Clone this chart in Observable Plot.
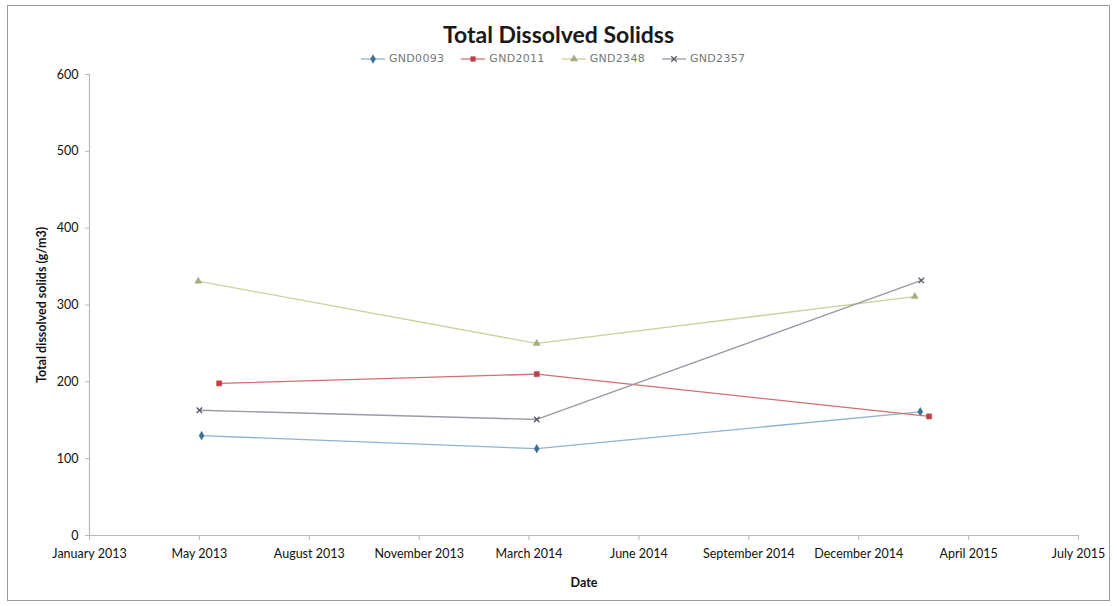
<!DOCTYPE html>
<html>
<head>
<meta charset="utf-8">
<script src="https://cdn.jsdelivr.net/npm/d3@7"></script>
<script src="https://cdn.jsdelivr.net/npm/@observablehq/plot@0.6"></script>
<style>
  html, body { margin: 0; padding: 0; background: #fff; }
  #wrap { position: relative; width: 1117px; height: 606px; overflow: hidden; font-family: Lato, "Open Sans", sans-serif; }
  #border { position: absolute; left: 7px; top: 5px; width: 1103px; height: 596px; border: 1.5px solid #9a9a9a; box-sizing: border-box; pointer-events: none; }
  #title { position: absolute; left: 0; top: 20px; width: 1117px; text-align: center; font-size: 23px; font-weight: bold; color: #1a1a1a; }
  #legend { position: absolute; left: 360px; top: 52px; display: flex; align-items: center; gap: 16px; font-family: "DejaVu Sans", sans-serif; font-size: 11px; color: #777; letter-spacing: 0.3px; }
  #legend .item { display: flex; align-items: center; gap: 3px; }
  #chart { position: absolute; left: 0; top: 0; }
</style>
</head>
<body>
<div id="wrap">
  <div id="chart"></div>
  <div id="title">Total Dissolved Solidss</div>
  <div id="legend"></div>
  <div id="border"></div>
</div>
<script>
// ---- data ----
const seriesNames = ["GND0093", "GND2011", "GND2348", "GND2357"];
const gnd0093Dates = ["2013-05-08", "2014-03-09", "2015-02-21"];
const gnd0093Values = [130, 113, 161];
const gnd2011Dates = ["2013-05-24", "2014-03-09", "2015-03-01"];
const gnd2011Values = [198, 210, 155];
const gnd2348Dates = ["2013-05-05", "2014-03-09", "2015-02-16"];
const gnd2348Values = [331, 250, 311];
const gnd2357Dates = ["2013-05-06", "2014-03-09", "2015-02-22"];
const gnd2357Values = [163, 151, 332];
const xTickDates = ["2013-01-26", "2013-05-06", "2013-08-14", "2013-11-22", "2014-03-02",
                    "2014-06-10", "2014-09-18", "2014-12-27", "2015-04-06", "2015-07-15"];
const yTicks = [0, 100, 200, 300, 400, 500, 600];

// ---- styles ----
const styles = [
  {line: "#8fb3cf", marker: "#3f6f8f", symbol: "diamond", fill: true, r: 2.6},
  {line: "#d07070", marker: "#c0404a", symbol: "square", fill: true, r: 2.9},
  {line: "#cfd19c", marker: "#a9ab80", symbol: "triangle", fill: true, r: 2.6},
  {line: "#9a9aa6", marker: "#555566", symbol: "times", fill: false, r: 2.6}
];

const parse = d3.utcParse("%Y-%m-%d");
const allDates = [gnd0093Dates, gnd2011Dates, gnd2348Dates, gnd2357Dates];
const allValues = [gnd0093Values, gnd2011Values, gnd2348Values, gnd2357Values];
const seriesData = seriesNames.map((name, i) =>
  allDates[i].map((d, j) => ({series: name, date: parse(d), value: allValues[i][j]})));
const xTicks = xTickDates.map(parse);

const marks = [
  Plot.ruleY([0], {stroke: "#b8b8b8", strokeWidth: 1.2}),
  Plot.ruleX([xTicks[0]], {stroke: "#b8b8b8", strokeWidth: 1.2}),
  Plot.axisX({ticks: xTicks, tickFormat: d3.utcFormat("%B %Y"), tickSize: 5, stroke: "#b8b8b8",
    tickPadding: 9, label: "Date", labelAnchor: "center", labelArrow: "none", labelOffset: 51,
    fill: "#111"}),
  Plot.axisY({ticks: yTicks, tickSize: 4, stroke: "#b8b8b8", tickPadding: 7,
    label: "Total dissolved solids (g/m3)", labelAnchor: "center", labelArrow: "none", labelOffset: 52,
    fill: "#111"})
];
seriesData.forEach((data, i) => {
  const s = styles[i];
  marks.push(Plot.line(data, {x: "date", y: "value", stroke: s.line, strokeWidth: 1.3}));
  marks.push(Plot.dot(data, {x: "date", y: "value", symbol: () => s.symbol, r: s.r,
    fill: s.fill ? s.marker : "none", stroke: s.marker, strokeWidth: s.fill ? 0.5 : 1.3}));
});

const chart = Plot.plot({
  width: 1117,
  height: 606,
  marginLeft: 89,
  marginRight: 39,
  marginTop: 74,
  marginBottom: 71,
  style: {fontFamily: "Lato, 'Open Sans', sans-serif", fontSize: "12.5px", color: "#111", background: "transparent"},
  x: {type: "utc", domain: [xTicks[0], xTicks[xTicks.length - 1]]},
  y: {domain: [0, 600]},
  symbol: {type: "identity"},
  marks
});
// bold axis titles
chart.querySelectorAll("g[aria-label='x-axis label'] text, g[aria-label='y-axis label'] text").forEach(t => {
  t.setAttribute("font-weight", "bold");
  t.setAttribute("font-size", "12.5px");
});
document.getElementById("chart").appendChild(chart);

// ---- legend ----
const legend = document.getElementById("legend");
seriesNames.forEach((name, i) => {
  const s = styles[i];
  const item = document.createElement("div");
  item.className = "item";
  const sw = d3.create("svg").attr("width", 26).attr("height", 12);
  sw.append("line").attr("x1", 1).attr("x2", 25).attr("y1", 6).attr("y2", 6).attr("stroke", s.line).attr("stroke-width", 1.3);
  const sym = {diamond: d3.symbolDiamond, square: d3.symbolSquare, triangle: d3.symbolTriangle, times: d3.symbolTimes}[s.symbol];
  sw.append("path").attr("transform", "translate(13,6)").attr("d", d3.symbol(sym, 22)())
    .attr("fill", s.fill ? s.marker : "none").attr("stroke", s.marker).attr("stroke-width", s.fill ? 0.5 : 1.2);
  item.appendChild(sw.node());
  const label = document.createElement("span");
  label.textContent = name;
  item.appendChild(label);
  legend.appendChild(item);
});
</script>
</body>
</html>
